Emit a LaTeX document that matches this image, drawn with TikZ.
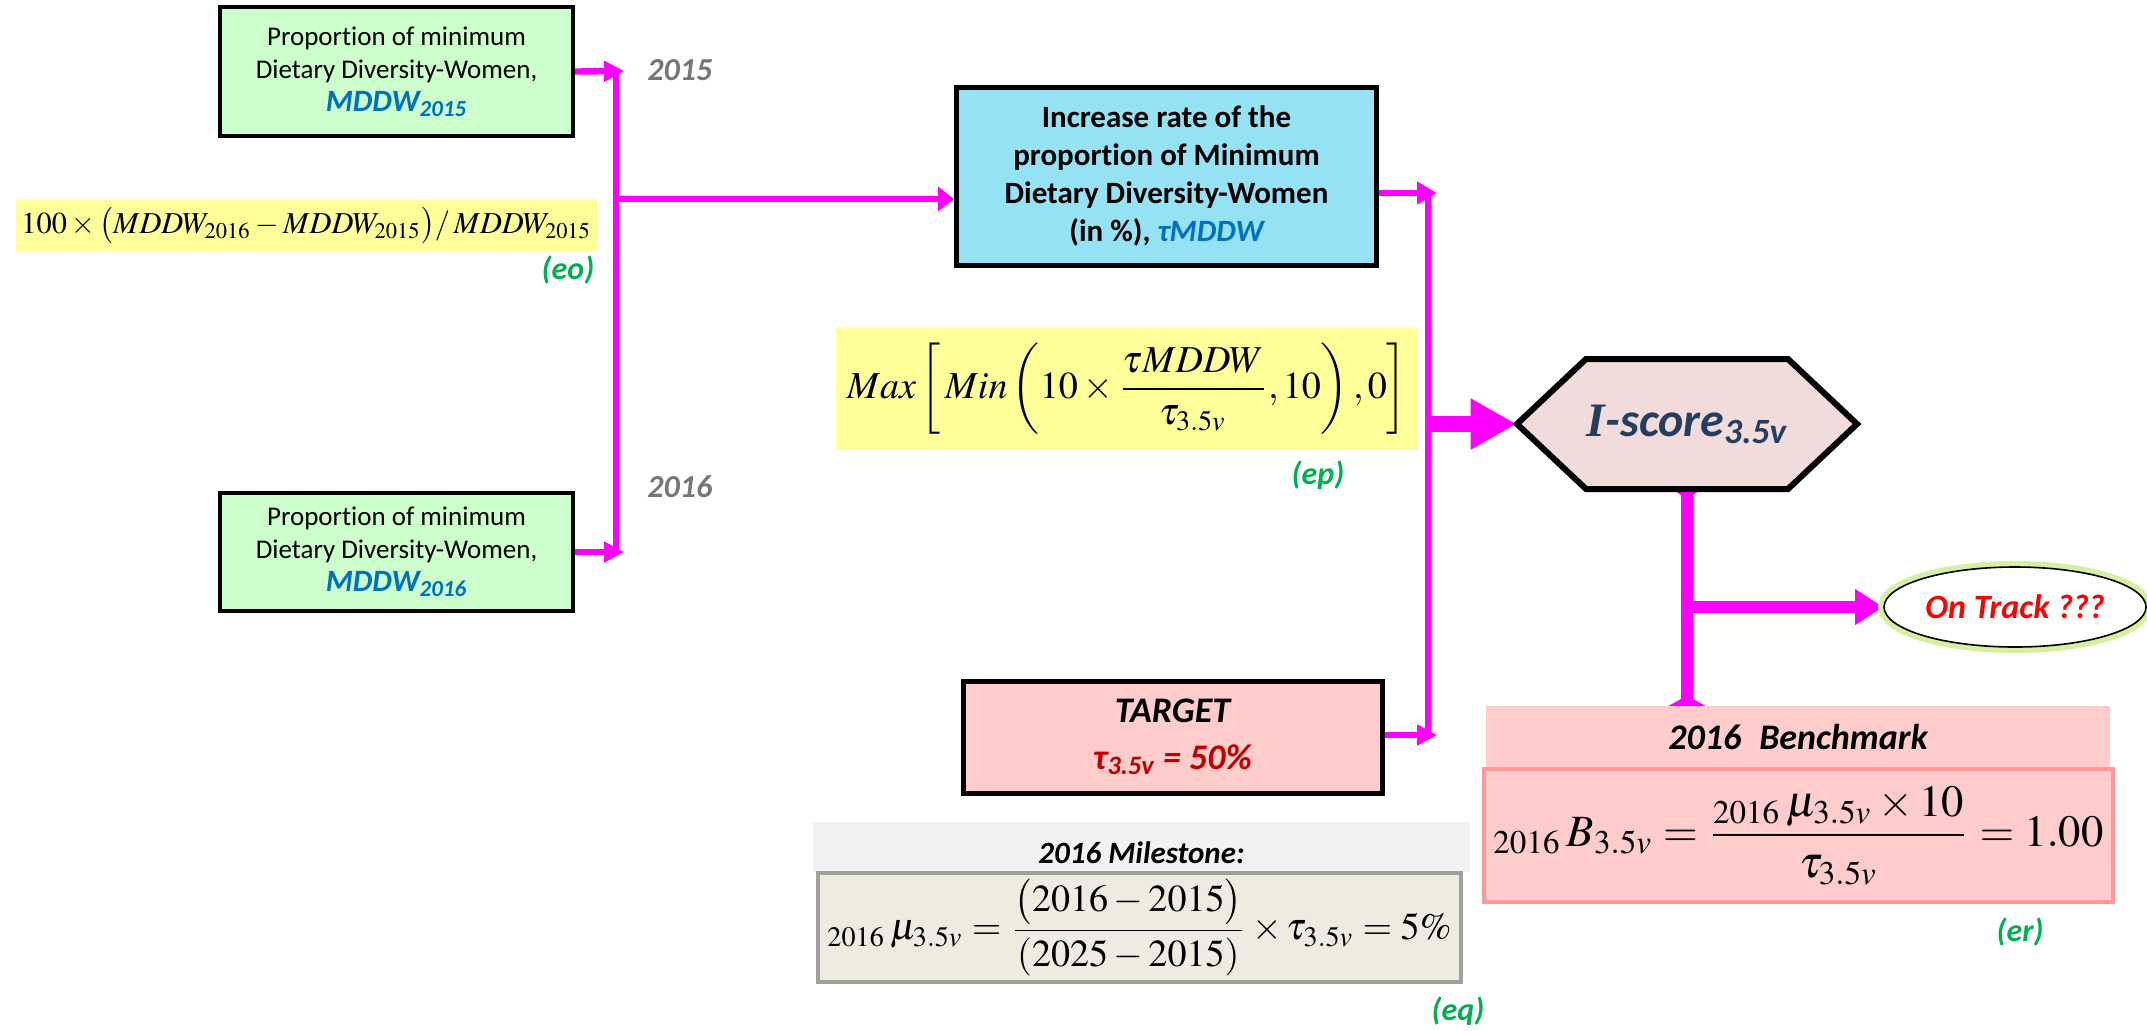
\documentclass[tikz,border=0pt]{standalone}
\usepackage{amsmath}
\usepackage{mathptmx}
\usepackage[no-math]{fontspec}
\setmainfont{Carlito}[Ligatures=NoCommon]
\newfontfamily\serifI{Liberation Serif}
\usepackage{graphicx}
\usetikzlibrary{arrows.meta,backgrounds,shapes.geometric}
\definecolor{mag}{RGB}{255,0,255}
\definecolor{gfill}{RGB}{204,255,204}
\definecolor{bfill}{RGB}{148,226,244}
\definecolor{yfill}{RGB}{255,255,153}
\definecolor{pfill}{RGB}{255,204,204}
\definecolor{pborder}{RGB}{255,153,153}
\definecolor{hfill}{RGB}{242,220,219}
\definecolor{mfill}{RGB}{238,236,225}
\definecolor{mhead}{RGB}{242,242,242}
\definecolor{mborder}{RGB}{160,160,160}
\definecolor{mblue}{RGB}{0,112,192}
\definecolor{lgray}{RGB}{118,118,118}
\definecolor{egreen}{RGB}{0,176,80}
\definecolor{tred}{RGB}{192,0,0}
\definecolor{hblue}{RGB}{36,62,96}
\definecolor{glow}{RGB}{214,240,160}
\newcommand{\myfs}[2]{\fontsize{#1}{#2}\selectfont}
\tikzset{
  gbox/.style={draw=black, line width=2pt, fill=gfill, align=center, inner sep=0pt,
    minimum width=176.5pt, font=\myfs{13.5}{16.5}},
  bbox/.style={draw=black, line width=2.5pt, fill=bfill, align=center, inner sep=0pt,
    font=\bfseries\myfs{15.5}{19}},
  tbox/.style={draw=black, line width=2.5pt, fill=pfill, align=center, inner sep=0pt,
    font=\bfseries\itshape\myfs{18}{23.5}},
  ybox/.style={fill=yfill, inner sep=0pt, align=center},
  hbox/.style={inner sep=0pt, align=center},
  yrlab/.style={text=lgray, font=\bfseries\itshape\myfs{16}{18}, inner sep=0pt},
  eqlab/.style={text=egreen, font=\bfseries\itshape\myfs{16}{18}, inner sep=0pt},
  thin/.style={draw=mag, line width=3.2pt},
  smtip/.style={-{Triangle[length=10pt,width=10pt]}}
}
\begin{document}
\begin{tikzpicture}[x=0.5pt,y=-0.5pt]
\useasboundingbox (0,0) rectangle (2147,1030);

% left green boxes
\node[gbox, minimum height=64.5pt] (g1) at (396.5,71.5)
  {Proportion of minimum\\Dietary Diversity-Women,\\{\color{mblue}\bfseries\itshape\myfs{15.5}{16.5}MDDW\textsubscript{2015}}};
\node[gbox, minimum height=59pt] (g2) at (396.5,552)
  {Proportion of minimum\\Dietary Diversity-Women,\\{\color{mblue}\bfseries\itshape\myfs{15.5}{16.5}MDDW\textsubscript{2016}}};

\node[yrlab, anchor=west] (l2015) at (647,70) {2015};
\node[yrlab, anchor=west] (l2016) at (647,487) {2016};

% formula eo
\node[ybox, minimum width=290.5pt, minimum height=25.5pt] (f1) at (306.5,225.5)
  {\resizebox{285pt}{!}{$100\times\bigl(MDDW_{2016}-MDDW_{2015}\bigr)/\,MDDW_{2015}$}};
\node[eqlab] (eo) at (568,270) {(eo)};

% blue box
\node[bbox, minimum width=210pt, minimum height=89pt] (bl) at (1166.5,176)
  {Increase rate of the\\proportion of Minimum\\Dietary Diversity-Women\\(in \%), {\color{mblue}\itshape τMDDW}};

% formula ep
\node[ybox, minimum width=291pt, minimum height=61pt] (f2) at (1127,389)
  {\resizebox{280pt}{!}{$\displaystyle Max\left[\,Min\left(10\times\frac{\tau MDDW}{\tau_{3.5v}},10\right),0\right]$}};
\node[eqlab] (ep) at (1318,475) {(ep)};

% target
\node[tbox, minimum width=209.5pt, minimum height=56pt] (tg) at (1172.5,737)
  {TARGET\\{\color{tred}τ\textsubscript{3.5v} = 50\%}};

% milestone
\node[hbox, fill=mhead, minimum width=328.5pt, minimum height=25pt] (mh) at (1141.5,847) {};
\node[hbox, font=\bfseries\itshape\myfs{15.5}{17}] (mht) at (1141.5,853) {2016 Milestone:};
\node[hbox, fill=mfill, draw=mborder, line width=2pt, minimum width=321.5pt, minimum height=54.5pt] (mf) at (1139.5,927.5)
  {\resizebox{312pt}{!}{$\displaystyle {}_{2016}\,\mu_{3.5v}=\frac{\bigl(2016-2015\bigr)}{(2025-2015)}\times\tau_{3.5v}=5\%$}};
\node[eqlab] (eq) at (1458,1011) {(eq)};

% hexagon
\draw[line width=3pt, fill=hfill] (1517,424) -- (1586,359) -- (1788,359) -- (1857,424) -- (1788,489) -- (1586,489) -- cycle;
\node[hbox, minimum width=170pt, minimum height=65pt, text=hblue, font=\bfseries\itshape\myfs{24}{26}] (hex) at (1687,424)
  {{\serifI I}-score\textsubscript{3.5v}};

% on track
\node[ellipse, draw=black, line width=0.8pt, fill=white, minimum width=131pt, minimum height=40pt, inner sep=0pt,
  preaction={draw=glow, line width=6pt},
  text=red, font=\bfseries\itshape\myfs{17}{19}] (ot) at (2015,607) {On Track ???};

% benchmark
\node[hbox, fill=pfill, minimum width=312pt, minimum height=31pt,
  font=\bfseries\itshape\myfs{18}{20}] (bh) at (1798,737) {2016\enspace Benchmark};
\node[hbox, fill=pfill, draw=pborder, line width=2pt, minimum width=314.5pt, minimum height=66.5pt] (bf) at (1798.5,835.5)
  {\resizebox{305pt}{!}{$\displaystyle {}_{2016}\,B_{3.5v}=\frac{{}_{2016}\,\mu_{3.5v}\times10}{\tau_{3.5v}}=1.00$}};
\node[eqlab] (er) at (2020,932) {(er)};

% coordinates
\coordinate (vt) at (616,71);
\coordinate (vm) at (616,199);
\coordinate (vb) at (616,552);
\coordinate (rt) at (1428,193);
\coordinate (rb) at (1428,735);

\begin{scope}[on background layer]
  \draw[thin, line cap=butt] (vt) -- (vb);
  \draw[thin, smtip] (g1.east) -- ([xshift=4pt]vt);
  \draw[thin, smtip] (g2.east) -- ([xshift=4pt]vb);
  \draw[thin, -{Triangle[length=8pt,width=12pt]}] (vm) -- (bl.west |- vm);
  \draw[thin] (rt) -- (rb);
  \draw[thin, -{Triangle[length=10pt,width=11pt]}] (bl.east |- rt) -- ([xshift=4.5pt]rt);
  \draw[thin, -{Triangle[length=10pt,width=10pt]}] (tg.east |- rb) -- ([xshift=4.5pt]rb);
  \draw[draw=mag, line width=8pt, -{Triangle[length=23pt,width=24pt]}] (rt |- hex.west) -- (hex.west);
  \draw[draw=mag, line width=6pt, {Diamond[length=10pt,width=14pt]}-{Diamond[length=10pt,width=18pt]},
    shorten <=-5pt, shorten >=-5pt] (hex.south) -- (hex.south |- bh.north);
  \draw[draw=mag, line width=6pt, -{Triangle[length=14pt,width=17pt]}] (hex.south |- ot.west) -- (ot.west);
\end{scope}
\end{tikzpicture}
\end{document}
